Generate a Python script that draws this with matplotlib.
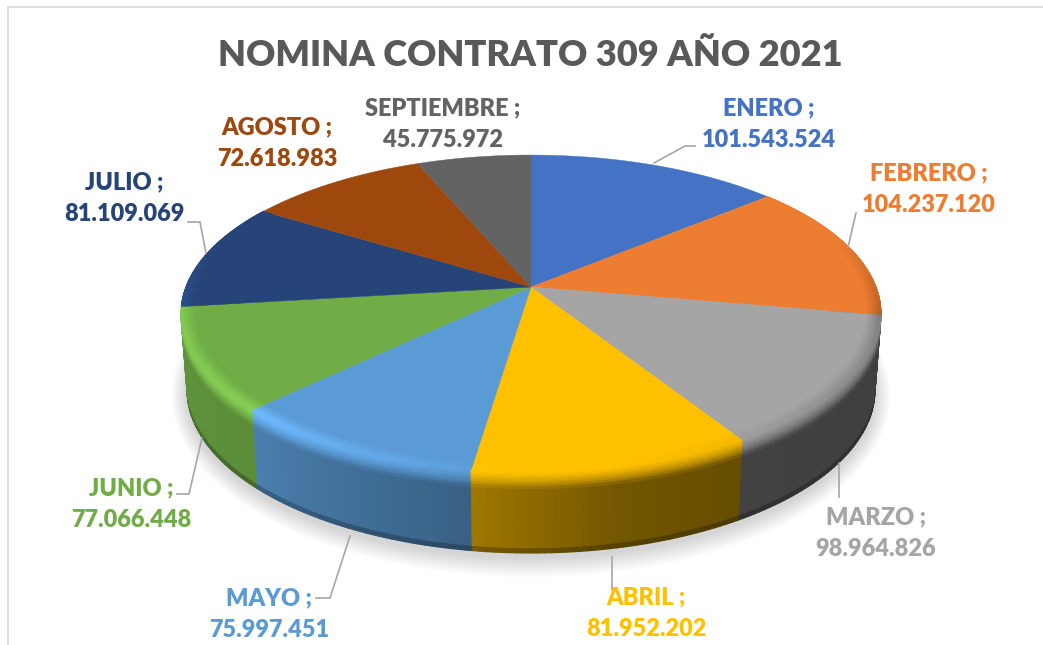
import numpy as np
import matplotlib
matplotlib.use("Agg")
import matplotlib.pyplot as plt
from matplotlib.colors import to_rgb
from matplotlib.collections import PolyCollection

months = ["ENERO", "FEBRERO", "MARZO", "ABRIL", "MAYO", "JUNIO", "JULIO", "AGOSTO", "SEPTIEMBRE"]
values = [101543524, 104237120, 98964826, 81952202, 75997451, 77066448, 81109069, 72618983, 45775972]
colors = ["#4472C4", "#ED7D31", "#A5A5A5", "#FFC000", "#5B9BD5", "#70AD47", "#264478", "#9E480E", "#636363"]
title = "NOMINA CONTRATO 309 AÑO 2021"

label_xy = [(769, 124), (929, 189), (876, 533), (646, 613), (269, 614),
            (131, 504), (124, 198), (277, 143), (443, 124)]
leaders = [[(654, 163), (685, 146), (695, 146)],
           [(848, 247), (856, 213)],
           [(839, 463), (839, 497)],
           [(612, 557), (612, 590)],
           [(350, 536), (330, 598), (316, 598)],
           [(202, 438), (189, 494), (177, 494)],
           [(206, 253), (200, 222), (188, 222)]]

plt.rcParams["font.family"] = ["Lato", "DejaVu Sans"]
fig = plt.figure(figsize=(10.43, 6.45), dpi=100)
ax = fig.add_axes([0, 0, 1, 1])
ax.set_xlim(0, 1043)
ax.set_ylim(645, 0)
ax.axis("off")

CX, B = 531.0, 0.167


def top(th, r=1.0):
    u, v = r * np.sin(th), r * np.cos(th)
    d = 1 + B * v
    return CX + 345 * u / d, 287 - 154 * v / d


def bottom(th):
    u, v = np.sin(th), np.cos(th)
    d = 1 + B * v
    return CX + 339 * u / d, 362.8 - 158.4 * v / d


def mix(a, b, w):
    return tuple(np.array(a) * (1 - w) + np.array(b) * w)


def scale(c, f):
    return tuple(np.clip(np.array(c) * f, 0, 1))


SHADE_A = [70, 100, 148, 168, 188, 225, 262, 290]
SHADE_F = [0.3, 0.38, 0.40, 0.45, 0.62, 0.82, 0.85, 0.5]
LIT_F = [1.0, 0.75, 0.95, 1.0, 1.03, 1.22, 1.18, 1.0]

fractions = np.array(values) / np.sum(values)
edges = np.concatenate([[0], np.cumsum(fractions)]) * 2 * np.pi

# soft shadow under the pie
tt = np.linspace(0, 2 * np.pi, 240)
bx, by = bottom(tt)
cxb, cyb = bx.mean(), by.mean()
for k in range(14, 0, -1):
    sx = cxb + (bx - cxb) * (1 + k * 1.1 / 340)
    sy = cyb + 4 + (by - cyb) * (1 + k * 1.3 / 160)
    ax.fill(sx, sy, color="#000000", alpha=0.011, lw=0, zorder=1)

# side wall and bevel
ts = [0, .03, .06, .09, .12, .15, .18, .22, .6, .95, 1.0]
wall = []
for i, c in enumerate(colors):
    rgb = to_rgb(c)
    a0, a1 = edges[i], edges[i + 1]
    if np.degrees(a1) < 70 or np.degrees(a0) > 290:
        continue
    grid = np.linspace(a0, a1, max(4, int(np.degrees(a1 - a0))) + 1)
    for p, q in zip(grid[:-1], grid[1:]):
        mid = np.degrees((p + q) / 2)
        f = np.interp(mid, SHADE_A, SHADE_F)
        lit = np.interp(mid, SHADE_A, LIT_F)
        x0, y0 = top(np.array([p, q]))
        x1, y1 = bottom(np.array([p, q]))
        for ta, tb in zip(ts[:-1], ts[1:]):
            tm = (ta + tb) / 2
            pts = [(x0[0] + (x1[0] - x0[0]) * ta, y0[0] + (y1[0] - y0[0]) * ta),
                   (x0[1] + (x1[1] - x0[1]) * ta, y0[1] + (y1[1] - y0[1]) * ta),
                   (x0[1] + (x1[1] - x0[1]) * tb, y0[1] + (y1[1] - y0[1]) * tb),
                   (x0[0] + (x1[0] - x0[0]) * tb, y0[0] + (y1[0] - y0[0]) * tb)]
            if tm < 0.22:
                col = mix(scale(rgb, lit), scale(rgb, f), (tm / 0.22) ** 1.5)
            elif tm > 0.95:
                col = scale(rgb, f * 0.75)
            else:
                col = scale(rgb, f)
            depth = np.mean(y1)  # far segments first
            wall.append((depth, ta, pts, col))
wall.sort(key=lambda w: (w[0], w[1]))
polys = [w[2] for w in wall]
cols = [w[3] for w in wall]
ax.add_collection(PolyCollection(polys, facecolors=cols, edgecolors=cols, linewidths=0.9, zorder=2))

# top face
for i, c in enumerate(colors):
    th = np.linspace(edges[i], edges[i + 1], 120)
    x, y = top(th)
    ax.fill(np.r_[CX, x], np.r_[287, y], color=c, lw=0.3, zorder=3)

# inner bevel glow on the top face
polys, cols = [], []
rs = np.linspace(0.96, 1.0, 6)
for i, c in enumerate(colors):
    rgb = to_rgb(c)
    a0, a1 = edges[i], edges[i + 1]
    if np.degrees(a1) < 70 or np.degrees(a0) > 290:
        continue
    grid = np.linspace(a0, a1, max(4, int(np.degrees(a1 - a0))) + 1)
    for p, q in zip(grid[:-1], grid[1:]):
        mid = np.degrees((p + q) / 2)
        lit = np.interp(mid, SHADE_A, LIT_F)
        for ra, rb in zip(rs[:-1], rs[1:]):
            xa, ya = top(np.array([p, q]), ra)
            xb, yb = top(np.array([p, q]), rb)
            w = ((ra + rb) / 2 - 0.96) / 0.04
            col = mix(rgb, scale(rgb, lit), w)
            polys.append([(xa[0], ya[0]), (xa[1], ya[1]), (xb[1], yb[1]), (xb[0], yb[0])])
            cols.append(col)
ax.add_collection(PolyCollection(polys, facecolors=cols, edgecolors=cols, linewidths=0.3, zorder=4))

# leader lines
for pts in leaders:
    xs, ys = zip(*pts)
    ax.plot(xs, ys, color="#A6A6A6", lw=1.2, zorder=5, solid_joinstyle="miter")

# labels
for m, v, c, (lx, ly) in zip(months, values, colors, label_xy):
    txt = f"{m} ;\n{v:,}".replace(",", ".")
    ax.text(lx, ly, txt, color=c, fontsize=16.95, fontweight="heavy", ha="center", va="center",
            linespacing=1.55, zorder=6)

ax.text(530, 55, title, color="#595959", fontsize=26.1, fontweight="heavy", ha="center", va="center", zorder=6)

# frame
ax.plot([8, 8, 1043], [645, 6.5, 6.5], color="#D9D9D9", lw=1.3, zorder=0)

fig.savefig("out.png", dpi=100)
